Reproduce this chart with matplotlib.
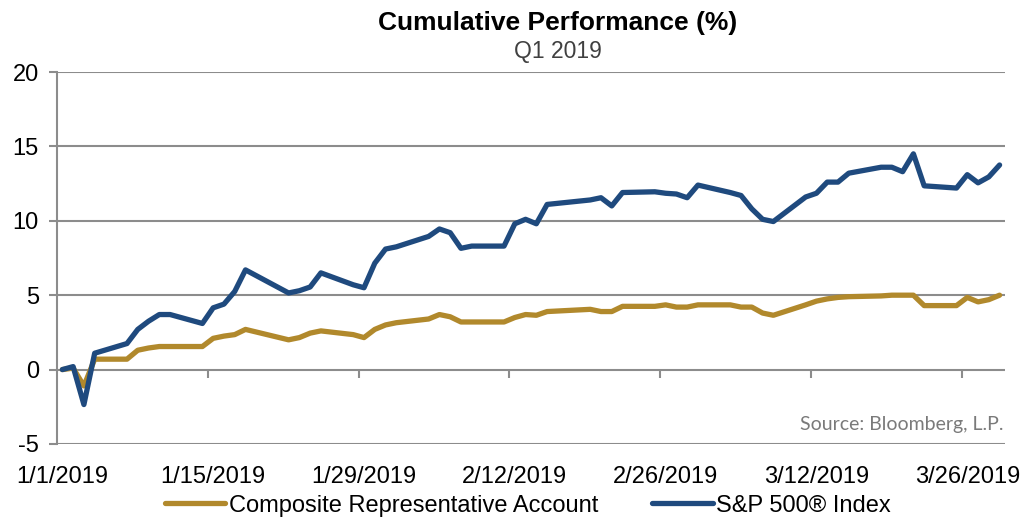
import matplotlib
matplotlib.use("Agg")
import matplotlib.pyplot as plt
import pandas as pd

plt.rcParams['font.family'] = ['Liberation Sans', 'DejaVu Sans']
plt.rcParams['axes.unicode_minus'] = False

dates = ['1/1', '1/2', '1/3', '1/4', '1/7', '1/8', '1/9', '1/10', '1/11', '1/14',
         '1/15', '1/16', '1/17', '1/18', '1/22', '1/23', '1/24', '1/25', '1/28', '1/29',
         '1/30', '1/31', '2/1', '2/4', '2/5', '2/6', '2/7', '2/8', '2/11', '2/12',
         '2/13', '2/14', '2/15', '2/19', '2/20', '2/21', '2/22', '2/25', '2/26', '2/27',
         '2/28', '3/1', '3/4', '3/5', '3/6', '3/7', '3/8', '3/11', '3/12', '3/13',
         '3/14', '3/15', '3/18', '3/19', '3/20', '3/21', '3/22', '3/25', '3/26', '3/27',
         '3/28', '3/29']

composite = [0.0, 0.1, -1.1, 0.7, 0.7, 1.3, 1.45, 1.55, 1.55, 1.55,
             2.1, 2.25, 2.35, 2.7, 2.0, 2.15, 2.45, 2.6, 2.35, 2.15,
             2.7, 3.0, 3.15, 3.4, 3.7, 3.55, 3.2, 3.2, 3.2, 3.5,
             3.7, 3.65, 3.9, 4.05, 3.9, 3.9, 4.25, 4.25, 4.35, 4.2,
             4.2, 4.35, 4.35, 4.2, 4.2, 3.8, 3.65, 4.35, 4.6, 4.75,
             4.85, 4.9, 4.95, 5.0, 5.0, 5.0, 4.3, 4.3, 4.85, 4.55,
             4.7, 5.0]

sp500 = [0.0, 0.2, -2.35, 1.1, 1.75, 2.7, 3.25, 3.7, 3.7, 3.1,
         4.15, 4.4, 5.25, 6.7, 5.15, 5.3, 5.55, 6.5, 5.7, 5.5,
         7.15, 8.1, 8.25, 8.95, 9.45, 9.2, 8.15, 8.3, 8.3, 9.8,
         10.1, 9.8, 11.1, 11.4, 11.55, 11.0, 11.9, 11.95, 11.85, 11.8,
         11.55, 12.4, 11.9, 11.7, 10.8, 10.1, 9.95, 11.6, 11.85, 12.6,
         12.6, 13.2, 13.6, 13.6, 13.3, 14.5, 12.35, 12.2, 13.1, 12.55,
         12.95, 13.75]

tick_dates = ['1/1', '1/15', '1/29', '2/12', '2/26', '3/12', '3/26']
yticks = [-5, 0, 5, 10, 15, 20]

blue = '#1f4a7e'
gold = '#b1892c'
grid = '#8c8c8c'

x = pd.to_datetime([d + '/2019' for d in dates], format='%m/%d/%Y')
ticks = pd.to_datetime([d + '/2019' for d in tick_dates], format='%m/%d/%Y')
half = pd.Timedelta(hours=12)

fig = plt.figure(figsize=(10.21, 5.18), dpi=100)
ax = fig.add_axes([0.0558, 0.1429, 0.9285, 0.7181])

ax.plot(x + half, composite, color=gold, lw=3.8, solid_joinstyle='round',
        solid_capstyle='round', label='Composite Representative Account', zorder=3)
ax.plot(x + half, sp500, color=blue, lw=3.8, solid_joinstyle='round',
        solid_capstyle='round', label='S&P 500® Index', zorder=4)

ax.set_xlim(pd.Timestamp('2019-01-01'), pd.Timestamp('2019-03-30'))
ax.set_ylim(-5, 20)
ax.set_yticks(yticks)
ax.yaxis.grid(True, color=grid, lw=1.5)
ax.set_axisbelow(True)

for s in ['top', 'right', 'bottom']:
    ax.spines[s].set_visible(False)
ax.spines['left'].set_color(grid)
ax.spines['left'].set_linewidth(1.5)

ax.tick_params(axis='y', length=6, width=1.5, color=grid, pad=7, labelsize=17)
ax.set_xticks(ticks + half)
ax.set_xticklabels([t.strftime('%-m/%-d/%Y') for t in ticks])
ax.tick_params(axis='x', length=0, pad=16, labelsize=17)

# tick marks sit on the zero line
sec = ax.secondary_xaxis(0.2)
sec.set_xticks(ticks[1:])
sec.set_xticklabels([])
sec.tick_params(axis='x', length=6, width=1.5, color=grid, direction='out')
sec.spines['bottom'].set_visible(False)

ax.text(0.998, 0.052, 'Source: Bloomberg, L.P.', transform=ax.transAxes,
        ha='right', va='center', fontsize=14, color='#7a7a7a', family='Lato')

fig.text(0.546, 0.955, 'Cumulative Performance (%)', ha='center', va='center',
         fontsize=19, fontweight='bold')
fig.text(0.546, 0.901, 'Q1 2019', ha='center', va='center', fontsize=16.5,
         color='#404040')

fig.legend(loc='center', bbox_to_anchor=(0.517, 0.024), ncol=2, frameon=False,
           fontsize=17, handlelength=2.55, handletextpad=0.15, columnspacing=2.3,
           borderpad=0, borderaxespad=0)

fig.savefig('out.png', dpi=100)
